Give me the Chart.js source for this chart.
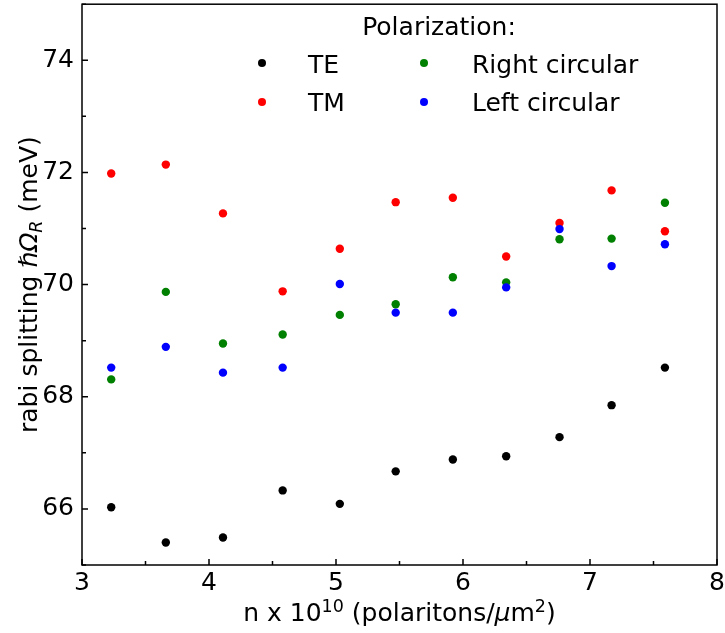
<!DOCTYPE html>
<html>
<head>
<meta charset="utf-8">
<script src="https://cdn.jsdelivr.net/npm/chart.js@4.4.1/dist/chart.umd.min.js"></script>
<style>
  html, body { margin: 0; padding: 0; background: #fff; }
  #wrap { width: 725px; height: 633px; }
</style>
</head>
<body>
<div id="wrap"><canvas id="chart" width="725" height="633"></canvas></div>
<script>
// polariton density (x 10^10 / um^2)
const density = [3.23, 3.66, 4.11, 4.58, 5.03, 5.47, 5.92, 6.34, 6.76, 7.17, 7.59];

// rabi splitting (meV) per polarization
const teValues    = [66.03, 65.40, 65.49, 66.33, 66.09, 66.67, 66.88, 66.94, 67.28, 67.85, 68.52];
const tmValues    = [71.98, 72.14, 71.27, 69.88, 70.64, 71.47, 71.55, 70.50, 71.10, 71.68, 70.95];
const rightValues = [68.31, 69.87, 68.95, 69.11, 69.46, 69.65, 70.13, 70.04, 70.81, 70.82, 71.46];
const leftValues  = [68.52, 68.89, 68.43, 68.52, 70.01, 69.50, 69.50, 69.95, 70.99, 70.33, 70.72];

const xTicks = [3, 4, 5, 6, 7, 8];
const xMinorTicks = [3.5, 4.5, 5.5, 6.5, 7.5];
const yTicks = [66, 68, 70, 72, 74];
const yMinorTicks = [65, 67, 69, 71, 73, 75];

const FONT = "'DejaVu Sans', sans-serif";
const FS = 25;

const series = [
  { label: 'TE', data: teValues, color: '#000000', order: 4 },
  { label: 'TM', data: tmValues, color: '#ff0000', order: 3 },
  { label: 'Right circular', data: rightValues, color: '#008000', order: 2 },
  { label: 'Left circular', data: leftValues, color: '#0000ff', order: 1 }
];

// draw a run of text pieces with super/subscripts and italics
function richWidth(ctx, parts) {
  let w = 0;
  parts.forEach(p => {
    const size = (p.sup || p.sub) ? FS * 0.7 : FS;
    ctx.font = `${p.italic ? 'italic ' : ''}${size}px ${FONT}`;
    w += ctx.measureText(p.t).width;
  });
  return w;
}

function drawRich(ctx, parts, x, y) {
  let cx = x;
  parts.forEach(p => {
    const size = (p.sup || p.sub) ? FS * 0.7 : FS;
    ctx.font = `${p.italic ? 'italic ' : ''}${size}px ${FONT}`;
    let dy = 0;
    if (p.sup) dy = -FS * 0.38;
    if (p.sub) dy = FS * 0.2;
    ctx.fillText(p.t, cx, y + dy);
    cx += ctx.measureText(p.t).width;
  });
}

const decorPlugin = {
  id: 'decor',
  afterDraw(chart) {
    const ctx = chart.ctx;
    const area = chart.chartArea;
    const xs = chart.scales.x;
    const ys = chart.scales.y;
    ctx.save();

    // frame
    ctx.strokeStyle = '#000';
    ctx.lineWidth = 1.5;
    ctx.strokeRect(area.left, area.top, area.right - area.left, area.bottom - area.top);

    // inward ticks on left and bottom
    ctx.lineWidth = 1.5;
    ctx.beginPath();
    xTicks.forEach(v => {
      const px = xs.getPixelForValue(v);
      ctx.moveTo(px, area.bottom);
      ctx.lineTo(px, area.bottom - 6);
    });
    xMinorTicks.forEach(v => {
      const px = xs.getPixelForValue(v);
      ctx.moveTo(px, area.bottom);
      ctx.lineTo(px, area.bottom - 4);
    });
    yTicks.forEach(v => {
      const py = ys.getPixelForValue(v);
      ctx.moveTo(area.left, py);
      ctx.lineTo(area.left + 6, py);
    });
    yMinorTicks.forEach(v => {
      const py = ys.getPixelForValue(v);
      ctx.moveTo(area.left, py);
      ctx.lineTo(area.left + 4, py);
    });
    ctx.stroke();

    ctx.fillStyle = '#000';
    ctx.textBaseline = 'alphabetic';
    ctx.textAlign = 'left';

    // x axis title
    const xParts = [
      { t: 'n x 10' }, { t: '10', sup: true }, { t: ' (polaritons/' },
      { t: 'μ', italic: true }, { t: 'm' }, { t: '2', sup: true }, { t: ')' }
    ];
    const xw = richWidth(ctx, xParts);
    drawRich(ctx, xParts, (area.left + area.right) / 2 - xw / 2, 621);

    // y axis title
    const yParts = [
      { t: 'rabi splitting ' }, { t: 'ℏΩ', italic: true }, { t: 'R', italic: true, sub: true },
      { t: ' (meV)' }
    ];
    const yw = richWidth(ctx, yParts);
    ctx.save();
    ctx.translate(37, (area.top + area.bottom) / 2);
    ctx.rotate(-Math.PI / 2);
    drawRich(ctx, yParts, -yw / 2, 0);
    ctx.restore();

    // legend
    ctx.font = `${FS}px ${FONT}`;
    ctx.textAlign = 'center';
    ctx.fillText('Polarization:', 439, 35);
    ctx.textAlign = 'left';
    const cols = [[262, 308], [424, 472]];
    const rows = [[63, 73], [102, 111]];
    series.forEach((s, i) => {
      const col = cols[Math.floor(i / 2)];
      const row = rows[i % 2];
      ctx.fillStyle = s.color;
      ctx.beginPath();
      ctx.arc(col[0], row[0], 4, 0, Math.PI * 2);
      ctx.fill();
      ctx.fillStyle = '#000';
      ctx.fillText(s.label, col[1], row[1]);
    });

    ctx.restore();
  }
};

new Chart(document.getElementById('chart'), {
  type: 'scatter',
  data: {
    datasets: series.map(s => ({
      label: s.label,
      data: density.map((x, i) => ({ x: x, y: s.data[i] })),
      backgroundColor: s.color,
      borderColor: s.color,
      borderWidth: 0,
      pointRadius: 4.2,
      order: s.order
    }))
  },
  options: {
    responsive: false,
    animation: false,
    layout: { padding: { top: 2, right: 8, left: 0, bottom: 0 } },
    plugins: { legend: { display: false }, tooltip: { enabled: false } },
    scales: {
      x: {
        type: 'linear',
        min: 3,
        max: 8,
        grid: { display: false, drawTicks: false },
        border: { display: false },
        afterBuildTicks: scale => { scale.ticks = xTicks.map(v => ({ value: v })); },
        afterFit: scale => {
          scale.height = 68;
          scale.paddingLeft = 0;
          scale.paddingRight = 0;
        },
        ticks: { color: '#000', font: { family: FONT, size: FS }, padding: 3, maxRotation: 0 }
      },
      y: {
        min: 65,
        max: 75,
        grid: { display: false, drawTicks: false },
        border: { display: false },
        afterBuildTicks: scale => { scale.ticks = yTicks.map(v => ({ value: v })); },
        afterFit: scale => {
          scale.width = 82;
          scale.paddingTop = 0;
          scale.paddingBottom = 0;
        },
        ticks: { color: '#000', font: { family: FONT, size: FS }, padding: 8 }
      }
    }
  },
  plugins: [decorPlugin]
});
</script>
</body>
</html>
